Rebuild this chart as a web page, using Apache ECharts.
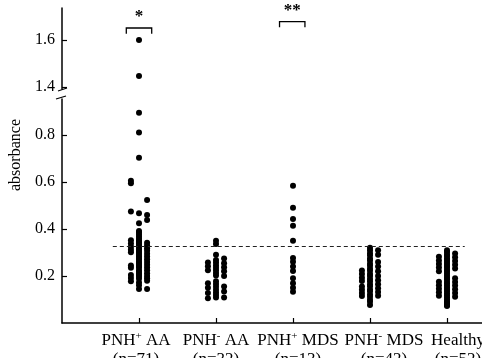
<!DOCTYPE html>
<html>
<head>
<meta charset="utf-8">
<script src="https://cdn.jsdelivr.net/npm/echarts@6/dist/echarts.min.js"></script>
<style>html,body{margin:0;padding:0;background:#fff}#c{width:482px;height:358px}</style>
</head>
<body>
<div id="c"></div>
<script>
// ---- data ----
const CAT_BASE = ['PNH', 'PNH', 'PNH', 'PNH', 'Healthy'];
const CAT_SUP = ['+', '-', '+', '-', ''];
const CAT_SUFFIX = [' AA', ' AA', ' MDS', ' MDS', ''];
const CAT_N = [71, 32, 13, 42, 52];

// each group: left column, centre column, right column (absorbance values)
const PNHpos_AA_left = [0.605, 0.595, 0.474, 0.352, 0.338, 0.325, 0.312, 0.301, 0.245, 0.235, 0.204, 0.192, 0.178];
const PNHpos_AA_centre = [1.60, 1.447, 0.895, 0.811, 0.703, 0.467, 0.424, 0.392, 0.385, 0.377, 0.368, 0.360, 0.352, 0.345, 0.341, 0.333, 0.327, 0.319, 0.312, 0.305, 0.298, 0.290, 0.283, 0.276, 0.271, 0.262, 0.255, 0.248, 0.242, 0.236, 0.225, 0.218, 0.211, 0.204, 0.197, 0.188, 0.172, 0.161, 0.145];
const PNHpos_AA_right = [0.523, 0.460, 0.438, 0.341, 0.330, 0.318, 0.307, 0.295, 0.283, 0.271, 0.260, 0.248, 0.236, 0.224, 0.212, 0.200, 0.190, 0.180, 0.145];

const PNHneg_AA_left = [0.257, 0.241, 0.225, 0.169, 0.150, 0.128, 0.105];
const PNHneg_AA_centre = [0.350, 0.336, 0.290, 0.268, 0.257, 0.246, 0.235, 0.224, 0.213, 0.202, 0.178, 0.166, 0.154, 0.142, 0.130, 0.119, 0.108];
const PNHneg_AA_right = [0.275, 0.254, 0.237, 0.220, 0.200, 0.155, 0.134, 0.108];

const PNHpos_MDS_left = [];
const PNHpos_MDS_centre = [0.584, 0.490, 0.443, 0.414, 0.350, 0.277, 0.261, 0.240, 0.221, 0.190, 0.169, 0.150, 0.133];
const PNHpos_MDS_right = [];

const PNHneg_MDS_left = [0.223, 0.208, 0.193, 0.179, 0.155, 0.141, 0.128, 0.115];
const PNHneg_MDS_centre = [0.320, 0.310, 0.297, 0.288, 0.275, 0.266, 0.252, 0.244, 0.231, 0.222, 0.209, 0.200, 0.187, 0.178, 0.165, 0.156, 0.143, 0.135, 0.121, 0.112, 0.099, 0.090, 0.077];
const PNHneg_MDS_right = [0.310, 0.290, 0.260, 0.240, 0.220, 0.200, 0.182, 0.165, 0.148, 0.132, 0.116];

const Healthy_left = [0.282, 0.266, 0.251, 0.236, 0.220, 0.176, 0.161, 0.146, 0.131, 0.116];
const Healthy_centre = [0.310, 0.302, 0.293, 0.285, 0.276, 0.268, 0.260, 0.251, 0.243, 0.235, 0.226, 0.218, 0.210, 0.201, 0.193, 0.185, 0.176, 0.168, 0.160, 0.151, 0.143, 0.135, 0.126, 0.118, 0.110, 0.101, 0.093, 0.087, 0.080, 0.076, 0.072];
const Healthy_right = [0.296, 0.280, 0.264, 0.248, 0.232, 0.190, 0.175, 0.160, 0.144, 0.128, 0.112];

const THRESHOLD = 0.325;
const SIG_GROUPS = [1, 3];      // 1-based category index
const SIG_LABELS = ['*', '**'];

// ---- build ----
const GROUPS = [
  [PNHpos_AA_left, PNHpos_AA_centre, PNHpos_AA_right],
  [PNHneg_AA_left, PNHneg_AA_centre, PNHneg_AA_right],
  [PNHpos_MDS_left, PNHpos_MDS_centre, PNHpos_MDS_right],
  [PNHneg_MDS_left, PNHneg_MDS_centre, PNHneg_MDS_right],
  [Healthy_left, Healthy_centre, Healthy_right]
];
const COL_GAP = 0.105;
const BREAK = 1.0;
const lowPts = [], highPts = [];
GROUPS.forEach((cols, gi) => {
  cols.forEach((vals, ci) => {
    vals.forEach(v => {
      const p = [gi + 1 + (ci - 1) * COL_GAP, v];
      (v > BREAK ? highPts : lowPts).push(p);
    });
  });
});

const FONT = 'Liberation Serif';
const TXT = '#000';
const PX = 77;                       // pixels per category step
const X_MAX = 420 / PX;
const UP_MIN = 1.3915, UP_MAX = 1.736;
const LOW_MAX = 224 / 235;
// label placement nudges (px) as in the original figure
const LABEL_NUDGE = [-3, 0, 5, 14, 11];
const labelPos = LABEL_NUDGE.map((d, i) => i + 1 + d / PX);

const axisLine = { show: true, lineStyle: { color: '#000', width: 1.5 } };
const axisTick = { show: true, inside: true, length: 5, lineStyle: { color: '#000', width: 1.2 } };

const chart = echarts.init(document.getElementById('c'), null, { renderer: 'canvas' });
chart.setOption({
  animation: false,
  backgroundColor: '#fff',
  grid: [
    { left: 62, right: 0, top: 8, height: 81, containLabel: false, outerBoundsMode: 'none' },
    { left: 62, right: 0, top: 99, height: 224, containLabel: false, outerBoundsMode: 'none' }
  ],
  xAxis: [
    { gridIndex: 0, type: 'value', min: 0, max: X_MAX, show: false },
    {
      gridIndex: 1, type: 'value', min: 0, max: X_MAX,
      axisLine: axisLine,
      axisTick: Object.assign({}, axisTick, { customValues: [1, 2, 3, 4, 5] }),
      splitLine: { show: false },
      axisLabel: {
        customValues: labelPos,
        margin: 8,
        hideOverlap: false,
        formatter: v => {
          const i = Math.round(v) - 1;
          let s = '{b|' + CAT_BASE[i] + '}';
          if (CAT_SUP[i]) s += '{sup|' + CAT_SUP[i] + '}';
          if (CAT_SUFFIX[i]) s += '{b|' + CAT_SUFFIX[i] + '}';
          return s + '\n{b|(n=' + CAT_N[i] + ')}';
        },
        rich: {
          b: { fontFamily: FONT, fontSize: 17, color: TXT, lineHeight: 19 },
          sup: { fontFamily: FONT, fontSize: 11, color: TXT, verticalAlign: 'top', lineHeight: 11 }
        }
      }
    }
  ],
  yAxis: [
    {
      gridIndex: 0, type: 'value', min: UP_MIN, max: UP_MAX,
      axisLine: axisLine,
      axisTick: Object.assign({}, axisTick, { customValues: [1.4, 1.6] }),
      splitLine: { show: false },
      axisLabel: { customValues: [1.4, 1.6], margin: 7, fontFamily: FONT, fontSize: 16, color: TXT }
    },
    {
      gridIndex: 1, type: 'value', min: 0, max: LOW_MAX,
      axisLine: axisLine,
      axisTick: Object.assign({}, axisTick, { customValues: [0.2, 0.4, 0.6, 0.8] }),
      splitLine: { show: false },
      axisLabel: { customValues: [0.2, 0.4, 0.6, 0.8], margin: 7, fontFamily: FONT, fontSize: 16, color: TXT }
    }
  ],
  series: [
    {
      type: 'scatter', xAxisIndex: 1, yAxisIndex: 1, data: lowPts,
      symbolSize: 6, itemStyle: { color: '#000', opacity: 1 }, silent: true,
      markLine: {
        silent: true, symbol: 'none', label: { show: false },
        lineStyle: { color: '#222', width: 1, type: [4, 3] },
        data: [[{ coord: [0.66, THRESHOLD] }, { coord: [5.23, THRESHOLD] }]]
      }
    },
    {
      type: 'scatter', xAxisIndex: 0, yAxisIndex: 0, data: highPts,
      symbolSize: 6, itemStyle: { color: '#000', opacity: 1 }, silent: true
    },
    {
      type: 'custom', xAxisIndex: 0, yAxisIndex: 0, silent: true,
      data: SIG_GROUPS.map((g, i) => [g, i]),
      renderItem: (params, api) => {
        const g = api.value(0), i = api.value(1);
        const top = i === 0 ? 1.651 : 1.678;
        const leg = top - 0.024;
        const half = 0.165;
        const cx = i === 0 ? g : g - 0.01;
        const a = api.coord([cx - half, leg]);
        const b = api.coord([cx - half, top]);
        const c = api.coord([cx + half, top]);
        const d = api.coord([cx + half, leg]);
        const t = api.coord([cx, top + 0.047]);
        return {
          type: 'group',
          children: [
            { type: 'polyline', shape: { points: [a, b, c, d] }, style: { stroke: '#000', lineWidth: 1.3, fill: null } },
            { type: 'text', x: t[0], y: t[1], style: { text: SIG_LABELS[i], font: 'bold 17px ' + FONT, fill: '#000', align: 'center', verticalAlign: 'middle' } }
          ]
        };
      }
    }
  ],
  graphic: [
    { type: 'rect', shape: { x: 55, y: 90, width: 14, height: 8 }, style: { fill: '#fff' }, z: 100 },
    { type: 'line', shape: { x1: 58, y1: 91, x2: 67, y2: 88 }, style: { stroke: '#000', lineWidth: 1.3 }, z: 101 },
    { type: 'line', shape: { x1: 56, y1: 99, x2: 66, y2: 96 }, style: { stroke: '#000', lineWidth: 1.3 }, z: 101 },
    { type: 'text', x: 16, y: 155, rotation: Math.PI / 2, style: { text: 'absorbance', font: '16px ' + FONT, fill: TXT, align: 'center', verticalAlign: 'middle' } }
  ]
});
</script>
</body>
</html>
